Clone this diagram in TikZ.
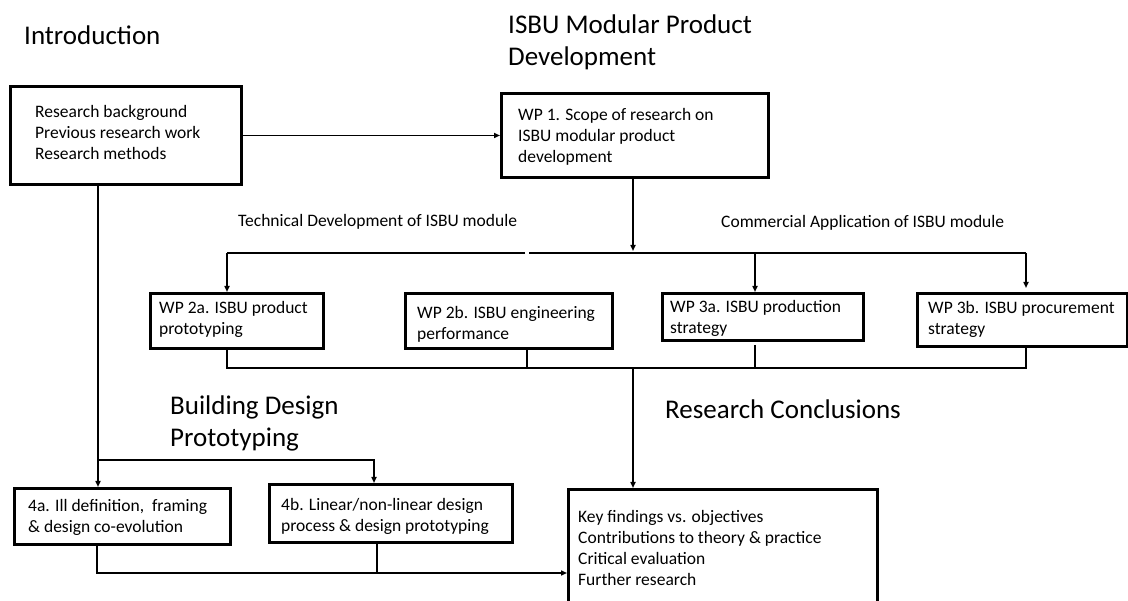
\documentclass[tikz,border=0pt]{standalone}
\usepackage{fontspec}
\setmainfont{Carlito}
\usetikzlibrary{arrows.meta,calc}
\begin{document}
\begin{tikzpicture}[x=1pt,y=-1pt,
  box/.style={draw, line width=3pt, rectangle, inner sep=0pt, anchor=north west},
  txt/.style={anchor=west, align=left, inner sep=0pt, font=\fontsize{17.5}{21}\selectfont},
  title/.style={anchor=base west, align=left, inner sep=0pt, font=\fontsize{27}{32}\selectfont},
  lbl/.style={anchor=base west, inner sep=0pt, font=\fontsize{17.5}{21}\selectfont},
  conn/.style={line width=1.8pt},
  arr/.style={conn, -{Triangle[length=6pt,width=5pt]}}
]
\useasboundingbox[fill=white] (0,0) rectangle (1128,601);

% section titles (base anchor sits on the last line)
\node[title] (tIntro) at (24,45) {Introduction};
\node[title] (tISBU) at (508,66) {ISBU Modular Product\\Development};
\node[title] (tBDP) at (170,447) {Building Design\\Prototyping};
\node[title] (tRC) at (665,419) {Research Conclusions};

% branch labels
\node[lbl] (lTech) at (238,227) {Technical Development of ISBU module};
\node[lbl] (lComm) at (721,228) {Commercial Application of ISBU module};

% boxes
\node[box, minimum width=231pt, minimum height=98pt] (intro) at (9,85) {};
\node[box, minimum width=267pt, minimum height=84pt] (wp1) at (500,92) {};
\node[box, minimum width=173pt, minimum height=55pt] (wp2a) at (149,292) {};
\node[box, minimum width=207pt, minimum height=55pt] (wp2b) at (404,292) {};
\node[box, minimum width=201pt, minimum height=47pt] (wp3a) at (661,292) {};
\node[box, minimum width=210pt, minimum height=53pt] (wp3b) at (916,292) {};
\node[box, minimum width=216pt, minimum height=56pt] (c4a) at (13,487) {};
\node[box, minimum width=243pt, minimum height=58pt] (c4b) at (268,483) {};
\node[box, minimum width=309pt, minimum height=117pt] (concl) at (567,488) {};

% box texts
\node[txt] (intro-t) at ($(intro.west)+(26,-3)$) {Research background\\Previous research work\\Research methods};
\node[txt] (wp1-t) at ($(wp1.west)+(18,1)$) {WP 1. Scope of research on\\ISBU modular product\\development};
\node[txt] (wp2a-t) at ($(wp2a.west)+(10,-2)$) {WP 2a. ISBU product\\prototyping};
\node[txt] (wp2b-t) at ($(wp2b.west)+(13,3)$) {WP 2b. ISBU engineering\\performance};
\node[txt] (wp3a-t) at ($(wp3a.west)+(9,1.5)$) {WP 3a. ISBU production\\strategy};
\node[txt] (wp3b-t) at ($(wp3b.west)+(12,-1)$) {WP 3b. ISBU procurement\\strategy};
\node[txt] (c4a-t) at ($(c4a.west)+(15,1)$) {4a. Ill definition,\ \ framing\\\& design co-evolution};
\node[txt] (c4b-t) at ($(c4b.west)+(13,2.5)$) {4b. Linear/non-linear design\\process \& design prototyping};
\node[txt] (concl-t) at ($(concl.west)+(11,0)$) {Key findings vs. objectives\\Contributions to theory \& practice\\Critical evaluation\\Further research};

% junction points
\coordinate (j1) at (98,460);
\coordinate (j2) at (374,460);
\coordinate (t0) at (633,251);
\coordinate (tl) at (227,253);
\coordinate (tg1) at (525,253);
\coordinate (tg2) at (529,253);
\coordinate (t3a) at (755,253);
\coordinate (tr) at (1026,253);
\coordinate (bl) at (227,368);
\coordinate (b2b) at (527,368);
\coordinate (bc) at (633,368);
\coordinate (b3a) at (755,368);
\coordinate (br) at (1026,368);
\coordinate (k1) at (97,573);
\coordinate (k2) at (377,573);

% introduction to WP1
\draw[arr] (intro.east) -- (wp1.west);

% WP1 to the work packages
\draw[arr] (wp1.south -| t0) -- (t0);
\draw[conn] (tg1) -- (tl);
\draw[arr] (tl) -- (wp2a.north -| tl);
\draw[conn] (tg2) -- (tr);
\draw[arr] (t3a) -- (wp3a.north -| t3a);
\draw[arr, shorten >=4pt] (tr) -- (wp3b.north -| tr);

% work packages to conclusions
\draw[conn] (wp2a.south -| bl) -- (bl) -- (br) -- (wp3b.south -| br);
\draw[conn] (wp2b.south -| b2b) -- (b2b);
\draw[conn] ($(wp3a.south -| b3a)+(0,3)$) -- (b3a);
\draw[arr] (bc) -- (concl.north -| bc);

% introduction to building design prototyping
\draw[conn] (intro.south -| j1) -- (j1);
\draw[arr] (j1) -- (c4a.north -| j1);
\draw[arr] (j1) -- (j2) -- (c4b.north -| j2);

% building design prototyping to conclusions
\draw[arr] (c4a.south -| k1) -- (k1) -- (concl.west |- k1);
\draw[conn] (c4b.south -| k2) -- (k2);
\end{tikzpicture}
\end{document}
